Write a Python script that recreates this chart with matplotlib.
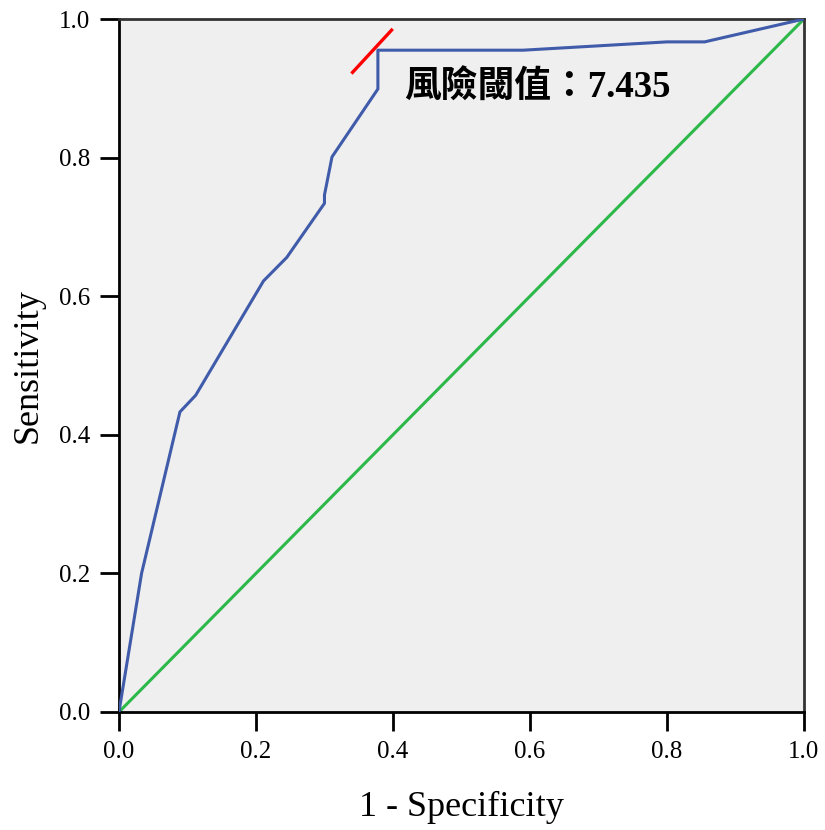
import matplotlib
matplotlib.use('Agg')
from matplotlib import pyplot as plt

# ROC curve
fpr = [0.0, 0.033, 0.089, 0.112, 0.211, 0.245, 0.300, 0.300, 0.311, 0.378, 0.378, 0.590, 0.800, 0.855, 1.0]
tpr = [0.0, 0.200, 0.433, 0.457, 0.622, 0.656, 0.734, 0.746, 0.801, 0.899, 0.955, 0.955, 0.967, 0.967, 1.0]

ref_x = [0.0, 1.0]
ref_y = [0.0, 1.0]

# cutoff marker
cut_x = [0.341, 0.398]
cut_y = [0.923, 0.984]
cut_label = '風險閾值：7.435'

ticks = [0.0, 0.2, 0.4, 0.6, 0.8, 1.0]
tick_labels = ['0.0', '0.2', '0.4', '0.6', '0.8', '1.0']

plt.rcParams['font.family'] = ['Liberation Serif', 'Noto Sans CJK TC']

fig = plt.figure(figsize=(8.25, 8.3), dpi=100)
ax = fig.add_axes([0.1442, 0.1422, 0.8303, 0.8349])
ax.set_facecolor('#efefef')

ax.plot(ref_x, ref_y, color='#2db84a', lw=2.2, zorder=2)
ax.plot(fpr, tpr, color='#3f5baa', lw=2.2, zorder=3)
ax.plot(cut_x, cut_y, color='#ff0000', lw=2.4, zorder=4, clip_on=False)
ax.text(0.416, 0.900, cut_label, fontsize=26.5, fontweight='bold', va='center', ha='left',
        family=['Liberation Serif', 'Noto Sans CJK TC'])

ax.set_xlim(0, 1)
ax.set_ylim(0, 1)
ax.set_xticks(ticks)
ax.set_yticks(ticks)
ax.set_xticklabels(tick_labels, fontsize=18)
ax.set_yticklabels(tick_labels, fontsize=18)
ax.tick_params(direction='out', length=14, width=2, pad=7)

for side in ['left', 'bottom']:
    ax.spines[side].set_linewidth(2)
    ax.spines[side].set_color('black')
for side in ['top', 'right']:
    ax.spines[side].set_linewidth(2)
    ax.spines[side].set_color('#333333')

ax.set_xlabel('1 - Specificity', fontsize=26, labelpad=20)
ax.set_ylabel('Sensitivity', fontsize=26, labelpad=10)

fig.savefig('out.png', dpi=100)
